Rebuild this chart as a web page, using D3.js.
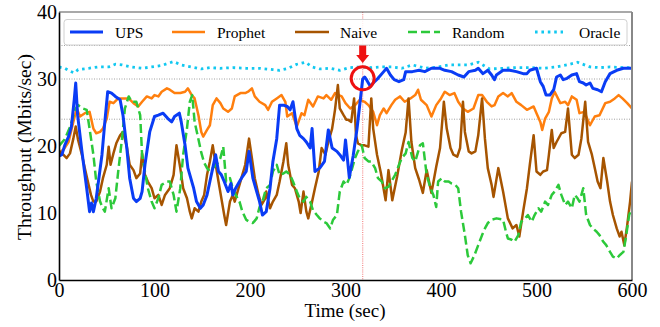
<!DOCTYPE html>
<html><head><meta charset="utf-8">
<script src="https://cdn.jsdelivr.net/npm/d3@7/dist/d3.min.js"></script>
<style>body{margin:0;background:#fff}svg{display:block}svg text{font-family:"Liberation Serif","DejaVu Serif",serif !important;}</style>
</head><body><svg id="c" width="660" height="327"></svg>
<script>
// ---- data: [time (sec), throughput (Mbits/sec)] ----
const upsData=[[0,18.5],[3,18.7],[6,20.1],[10,21.4],[13,22.9],[16,27.0],[17.5,29.4],[19.5,24.6],[24,19.2],[29,13.7],[32,10.2],[34,11.5],[36,10.2],[39,12.2],[45,18.7],[48,23.6],[51,28.1],[55,27.9],[59,27.4],[64,26.9],[67,24.6],[71,19.7],[74,15.2],[78,12.2],[81,11.7],[85,12.2],[87,13.2],[90,17.2],[95,22.1],[100,24.4],[104,24.6],[109,24.9],[114,24.1],[118,23.6],[121,24.4],[126,24.9],[128,23.6],[132,20.1],[135,16.7],[141,13.7],[144,11.7],[148,10.7],[151,11.2],[155,12.7],[158,14.7],[161,16.7],[164,18.7],[167,16.2],[170,15.7],[173,14.7],[177,13.2],[180,14.4],[182,12.7],[185,13.7],[189,14.7],[192,15.4],[196,16.2],[199,19.2],[203,15.2],[207,13.2],[210,11.7],[213,9.7],[217,10.2],[221,13.7],[224,17.7],[228,21.1],[231,26.1],[235,26.1],[239,25.9],[242,25.4],[245,26.6],[249,22.6],[252,21.6],[256,21.1],[259,20.6],[263,19.7],[265,22.6],[268,16.2],[273,16.7],[278,17.7],[282,22.4],[286,19.7],[291,19.2],[294,18.7],[298,17.9],[300,20.9],[304,15.3],[308,18.5],[312,22.5],[316,27.5],[318,30.0],[320,30.3],[322,29.9],[326,28.9],[329,29.4],[334,30.1],[340,31.1],[343,31.6],[347,30.6],[351,29.9],[356,29.6],[361,29.9],[363,31.1],[370,31.1],[377,31.3],[383,31.1],[390,31.6],[399,31.6],[404,31.3],[411,31.1],[418,30.6],[424,30.3],[429,31.1],[436,31.3],[439,31.6],[444,30.8],[449,31.3],[453,30.6],[456,29.9],[458,30.6],[465,31.3],[472,31.3],[479,31.1],[486,30.8],[490,30.8],[493,31.3],[500,31.6],[504,29.6],[507,28.9],[510,27.6],[514,27.6],[518,28.4],[521,30.3],[525,30.6],[528,29.9],[532,30.1],[537,30.6],[542,30.8],[545,29.6],[549,29.4],[552,29.1],[556,29.4],[559,28.6],[564,28.4],[568,28.1],[572,29.6],[577,30.8],[584,31.3],[591,31.6],[600,31.6]];
const prophetData=[[0,19.0],[5,19.5],[10,20.6],[15,23.6],[18.5,25.6],[22,24.4],[27,24.9],[32,25.1],[36,22.6],[39,21.9],[43,22.1],[46,22.6],[50,24.1],[53,26.6],[57,26.4],[62,27.1],[67,27.1],[73,27.1],[78,26.4],[83,25.9],[87,26.6],[92,27.4],[97,27.1],[100,27.6],[104,27.4],[107.5,28.1],[113,28.6],[116,28.4],[121,27.9],[127,27.9],[132,28.1],[135,28.6],[139,27.6],[142,27.1],[146,24.6],[149,22.1],[151,21.4],[155,22.4],[158,23.1],[161,26.1],[165,27.1],[169,26.4],[172,25.6],[177,25.1],[181,25.6],[184,27.4],[190,27.9],[195,27.9],[198,28.1],[202,28.6],[205,27.4],[210,26.6],[216,26.1],[219,25.4],[223,26.6],[228,27.1],[233,27.6],[237,26.6],[239,24.4],[244,24.9],[249,22.9],[254,24.9],[257,24.6],[261,26.9],[266,25.9],[271,27.4],[277,27.1],[280,27.6],[285,26.9],[289,27.9],[293,27.6],[296,27.4],[300,26.4],[305,25.6],[310,26.1],[315,26.9],[320,26.6],[324,26.1],[329,25.1],[333,23.1],[336,24.6],[340,25.6],[343,24.9],[348,26.1],[352,26.9],[357,27.4],[362,26.6],[368,27.1],[373,27.6],[376,28.4],[379,26.9],[385,26.1],[390,24.4],[395,26.1],[400,27.1],[404,28.1],[409,27.6],[414,27.9],[418,26.6],[423,25.6],[428,25.1],[434,25.6],[439,27.6],[443,27.6],[448,26.6],[453,25.9],[456,26.1],[460,27.4],[465,27.9],[470,27.4],[474,27.9],[479,26.6],[484,26.1],[490,25.4],[493,25.6],[497,25.9],[500,24.9],[504,23.6],[506,22.4],[509,24.1],[513,25.1],[516,27.1],[519,28.1],[525,26.4],[530,26.6],[533,26.1],[537,27.4],[542,26.9],[545,24.9],[550,25.1],[556,23.1],[561,24.4],[566,24.6],[572,26.4],[577,26.6],[582,27.1],[586,27.6],[590,27.1],[595,26.4],[600,25.6]];
const naiveData=[[0,19.2],[4.5,18.7],[8,18.2],[11.5,18.9],[15,21.1],[17.5,22.9],[20,20.9],[24,18.7],[27,16.7],[31,14.2],[33.5,12.7],[36,11.7],[39,11.7],[43,13.2],[46,15.2],[50,17.2],[52,19.9],[54,17.2],[57,18.9],[60,20.4],[64,21.6],[67,22.1],[71,19.9],[74,17.2],[78,16.4],[81,15.2],[85,15.9],[87,18.9],[90,15.7],[93,14.7],[97,13.7],[100,12.2],[104,12.7],[107.5,11.2],[111,12.7],[116,13.7],[120,15.7],[123,20.1],[127,16.7],[130,13.7],[134,12.2],[137,10.2],[139,9.2],[142,10.7],[146,10.2],[149,11.7],[152,12.7],[155,15.7],[158,17.7],[161,20.1],[163,18.2],[167,14.7],[170,12.2],[173,9.7],[175,8.2],[179,11.7],[182,12.7],[184,11.7],[188,13.7],[191,15.2],[195,17.2],[199,21.1],[202,18.2],[205,15.2],[209,12.7],[212,11.2],[216,12.2],[217,13.2],[221,10.7],[224,11.7],[228,12.7],[231,14.7],[235,17.7],[238,20.4],[240,17.2],[244,14.2],[247,13.7],[251,11.7],[253,10.0],[256,13.2],[259,10.2],[261,9.2],[265,11.7],[268,13.7],[272,16.2],[275,19.7],[279,18.7],[282,20.6],[286,22.6],[289,25.4],[292,29.1],[294,25.6],[298,24.6],[301,23.9],[303,23.9],[306,23.6],[309,27.1],[311,21.6],[313,20.4],[317,20.1],[320,20.1],[324,19.9],[327,27.1],[329,22.6],[333,18.7],[337,16.0],[342,11.9],[345,16.4],[349,11.9],[354,15.4],[359,19.4],[363,22.0],[366,27.1],[369,20.6],[373,16.7],[377,15.0],[381,13.0],[385,16.4],[390,13.0],[395,16.9],[399,19.7],[403,26.6],[406,22.6],[410,19.7],[413,18.7],[417,18.4],[420,19.7],[423,26.6],[425,22.1],[429,19.2],[432,18.9],[436,19.2],[439,21.6],[443,27.1],[446,21.1],[449,16.7],[453,14.2],[455,12.4],[460,16.7],[465,13.2],[470,9.2],[475,7.7],[479,8.2],[482,6.5],[486,10.2],[490,13.7],[493,17.2],[497,21.6],[500,16.2],[504,15.7],[507,16.2],[511,16.4],[513,18.7],[516,22.4],[518,19.7],[521,20.6],[526,21.9],[530,22.1],[533,25.6],[537,18.7],[540,18.2],[544,18.7],[547,21.1],[551,26.6],[554,20.6],[558,18.7],[561,16.7],[564,14.7],[567,13.7],[570,18.2],[574,14.7],[577,11.7],[580,9.7],[584,7.7],[587,6.5],[589,7.2],[592,5.2],[595,8.2],[598,11.7],[600,14.7]];
const randomData=[[0,20.0],[6,21.0],[12,23.0],[17,25.5],[20,26.1],[25,25.6],[29,25.4],[32,22.6],[36,18.7],[39,14.7],[43,11.7],[46,10.7],[48,10.2],[52,13.7],[55,10.7],[59,12.2],[62,16.2],[66,21.1],[69,25.6],[73,27.4],[76,26.6],[81,26.6],[85,24.6],[87,18.7],[90,16.2],[93,13.7],[97,11.7],[100,10.7],[104,12.2],[107.5,14.2],[113,14.7],[116,14.7],[120,12.7],[123,10.2],[127,13.7],[130,18.7],[134,22.6],[137,26.6],[139.5,27.6],[142,23.6],[146,21.0],[149,19.0],[152,17.5],[155,16.7],[158,16.2],[161,16.7],[165,17.2],[169,18.2],[172,19.9],[175,14.7],[179,15.2],[182,13.7],[185,12.7],[189,11.7],[192,10.2],[196,9.0],[199,8.7],[203,8.5],[207,9.2],[210,10.9],[213,11.7],[217,13.7],[221,14.2],[224,16.2],[228,17.2],[231,15.7],[235,15.9],[238,16.2],[242,15.7],[245,14.7],[249,13.2],[252,12.2],[256,11.7],[259,12.4],[263,11.7],[266,10.4],[270,9.7],[273,9.2],[277,8.7],[280,8.5],[284,7.7],[287,9.0],[291,9.7],[294,13.2],[298,14.7],[301,14.2],[304,15.2],[306,16.2],[310,18.2],[313,19.2],[317,20.1],[320,18.2],[324,17.7],[327,17.7],[331,16.7],[334,15.2],[338,14.7],[341,13.7],[345,13.9],[348,14.7],[352,15.7],[356,17.2],[359,18.2],[363,18.9],[366,20.6],[370,18.2],[373,17.7],[378,20.1],[381,20.4],[385,15.7],[389,13.7],[392,12.7],[395,10.9],[397,14.7],[401,15.2],[404,14.7],[408,14.7],[411,14.4],[415,14.2],[418,13.7],[421,10.2],[425,6.7],[428,3.7],[431,2.5],[435,3.7],[439,5.2],[443,6.7],[446,7.7],[449,8.5],[453,9.0],[458,9.2],[465,9.0],[468,7.2],[470,6.2],[474,6.0],[477,5.7],[481,6.7],[484,8.7],[488,9.2],[491,9.7],[495,8.7],[498,9.7],[502,10.7],[505,10.2],[509,11.7],[512,11.2],[516,12.7],[519,13.2],[523,14.2],[526,12.7],[530,11.2],[533,11.7],[537,10.7],[540,12.7],[543,12.2],[545,11.7],[549,13.7],[552,9.7],[556,8.2],[559,7.7],[563,7.2],[566,6.7],[570,5.7],[573,5.2],[577,4.2],[580,3.5],[584,3.2],[587,3.7],[591,4.2],[594,6.7],[597,9.7],[600,10.7]];
const oracleData=[[0,31.8],[6,31.6],[11,31.2],[16,30.9],[20,31.4],[31,31.6],[41,31.8],[52,31.8],[59,32.2],[66,32.1],[76,31.8],[87,31.6],[97,31.8],[107,32.0],[120,32.6],[128,32.1],[139,31.8],[149,31.5],[158,31.7],[169,31.6],[182,31.7],[196,31.6],[210,31.6],[224,31.4],[231,31.3],[240,31.6],[249,32.2],[258,32.5],[265,31.8],[273,31.5],[284,31.6],[294,31.3],[304,31.7],[317,31.8],[327,31.7],[338,31.8],[348,31.8],[359,31.6],[370,32.1],[384,31.6],[397,31.8],[408,32.1],[418,32.1],[429,32.1],[439,32.5],[451,31.5],[465,31.6],[479,31.7],[493,31.7],[507,31.6],[521,31.8],[532,32.1],[543,32.5],[556,31.8],[566,31.7],[577,31.8],[591,31.7],[600,31.7]];

const seriesNames=["UPS","Prophet","Naive","Random","Oracle"];
const xTicks=[0,100,200,300,400,500,600];
const yTicks=[0,10,20,30,40];
const refLevels=[35,30,24];
const switchTime=318;
const switchValue=30.1;

// ---- chart ----
const svg=d3.select("#c");
const L=59,R=632,T=12,B=280;
const x=d3.scaleLinear().domain([0,600]).range([L,R]);
const y=d3.scaleLinear().domain([0,40]).range([B,T]);
const FONT='"Liberation Serif","DejaVu Serif",serif';

const styles={
  UPS:{data:upsData,color:"#0a3cf5",w:3,dash:null},
  Prophet:{data:prophetData,color:"#ff7f0e",w:2.5,dash:null},
  Naive:{data:naiveData,color:"#a65400",w:2.5,dash:null},
  Random:{data:randomData,color:"#2cc93a",w:2.5,dash:"9,4"},
  Oracle:{data:oracleData,color:"#12c8f0",w:2.8,dash:"2.6,3.8"}
};

svg.append("defs").append("clipPath").attr("id","clip")
  .append("rect").attr("x",L).attr("y",T).attr("width",R-L).attr("height",B-T);

svg.append("g").selectAll("line").data(refLevels).join("line")
  .attr("x1",L).attr("x2",R).attr("y1",d=>y(d)).attr("y2",d=>y(d))
  .attr("stroke","#a0a0a0").attr("stroke-width",1).attr("stroke-dasharray","1,1.5");

svg.append("line").attr("x1",x(switchTime)).attr("x2",x(switchTime))
  .attr("y1",T).attr("y2",B).attr("stroke","#f48a8a").attr("stroke-width",1.2)
  .attr("stroke-dasharray","1,1.2");

const line=d3.line().x(d=>x(d[0])).y(d=>y(d[1]));
const g=svg.append("g").attr("clip-path","url(#clip)");
["Oracle","Prophet","Naive","Random","UPS"].forEach(n=>{
  const s=styles[n];
  g.append("path").datum(s.data).attr("d",line).attr("fill","none")
    .attr("stroke",s.color).attr("stroke-width",s.w)
    .attr("stroke-linejoin","round")
    .attr("stroke-dasharray",s.dash);
});

svg.append("line").attr("x1",L).attr("x2",R).attr("y1",T).attr("y2",T).attr("stroke","#555").attr("stroke-width",1.2);
svg.append("line").attr("x1",R).attr("x2",R).attr("y1",T).attr("y2",B).attr("stroke","#888").attr("stroke-width",2);

const xAxis=svg.append("g").attr("transform",`translate(0,${B})`)
  .call(d3.axisBottom(x).tickValues(xTicks).tickSize(0).tickPadding(3).tickFormat(d3.format("d")));
const yAxis=svg.append("g").attr("transform",`translate(${L},0)`)
  .call(d3.axisLeft(y).tickValues(yTicks).tickSize(0).tickPadding(2).tickFormat(d3.format("d")));
[xAxis,yAxis].forEach(a=>{
  a.attr("font-family",null);
  a.select(".domain").attr("stroke","#000").attr("stroke-width",1.6);
  a.selectAll("text").style("font-family",FONT).style("font-size","20px").attr("fill","#000");
});

svg.append("text").attr("x",345).attr("y",317).attr("text-anchor","middle")
  .style("font-family",FONT).style("font-size","19px").text("Time (sec)");
svg.append("text").attr("transform","translate(31,147) rotate(-90)").attr("text-anchor","middle")
  .style("font-family",FONT).style("font-size","19.5px").text("Throughput (Mbits/sec)");

const cx=x(switchTime),cy=y(switchValue);
svg.append("circle").attr("cx",cx).attr("cy",cy).attr("r",11.5)
  .attr("fill","none").attr("stroke","#ee1111").attr("stroke-width",3);
svg.append("path").attr("d",`M${cx-3.5},45 L${cx+3.5},45 L${cx+3.5},55 L${cx+6.5},55 L${cx},63 L${cx-6.5},55 L${cx-3.5},55 Z`)
  .attr("fill","#ee1111");

const lg=svg.append("g");
lg.append("rect").attr("x",64).attr("y",19.5).attr("width",563).attr("height",25.5).attr("rx",3)
  .attr("fill","#fff").attr("fill-opacity",0.85).attr("stroke","#d0d0d0").attr("stroke-width",1);
const legX=[[70,103,115],[172,205,217],[295,329,340],[408,440,452],[535,563,579]];
seriesNames.forEach((n,i)=>{
  const s=styles[n],p=legX[i];
  lg.append("line").attr("x1",p[0]).attr("x2",p[1]).attr("y1",32).attr("y2",32)
    .attr("stroke",s.color).attr("stroke-width",s.w).attr("stroke-dasharray",s.dash);
  lg.append("text").attr("x",p[2]).attr("y",37.5).style("font-family",FONT).style("font-size","15.5px").text(n);
});
</script></body></html>
